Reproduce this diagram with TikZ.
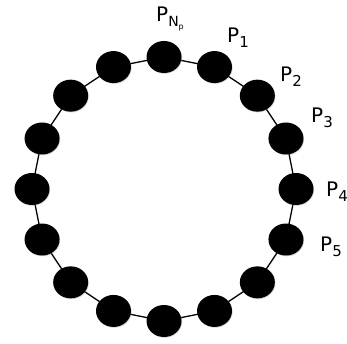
\documentclass[tikz,border=0pt]{standalone}
\usepackage{fontspec}
\setmainfont{DejaVu Sans}
\usetikzlibrary{backgrounds,shadows,shapes.geometric}

% label with lowered subscript
\newcommand{\plab}[2]{P\raisebox{-5pt}{\fontsize{15}{15}\selectfont #1}#2}

\begin{document}
\begin{tikzpicture}[x=1pt, y=1pt,
  bead/.style={ellipse, fill=black, minimum width=35pt, minimum height=32pt, inner sep=0pt,
               drop shadow={shadow xshift=0.6pt, shadow yshift=-0.8pt, opacity=0.35}},
  bond/.style={draw=black, line width=1.3pt},
  plabel/.style={anchor=base west, inner sep=0pt, font=\fontsize{20}{20}\selectfont}
]
\useasboundingbox (0,0) rectangle (347,344);

% beads round the ring, b0 at the top
\foreach \i in {0,...,15}
  \node[bead] (b\i) at ({90-22.5*\i}:132) [shift={(164,155)}] {};

\begin{scope}[on background layer]
\foreach \i [evaluate=\i as \j using {int(mod(\i+1,16))}] in {0,...,15}
  \draw[bond] (b\i.center) -- (b\j.center);
\end{scope}

%% labels
\node[plabel] (lnp) at (156,322) {P\raisebox{-5pt}{\fontsize{14}{14}\selectfont N\raisebox{-2.5pt}{\fontsize{8}{8}\selectfont p}}};
\node[plabel] (l1) at (227,301) {\plab{1}{}};
\node[plabel] (l2) at (280,262) {\plab{2}{}};
\node[plabel] (l3) at (311,221) {\plab{3}{}};
\node[plabel] (l4) at (326,147) {\plab{4}{}};
\node[plabel] (l5) at (320,92) {\plab{5}{}};

\end{tikzpicture}
\end{document}
